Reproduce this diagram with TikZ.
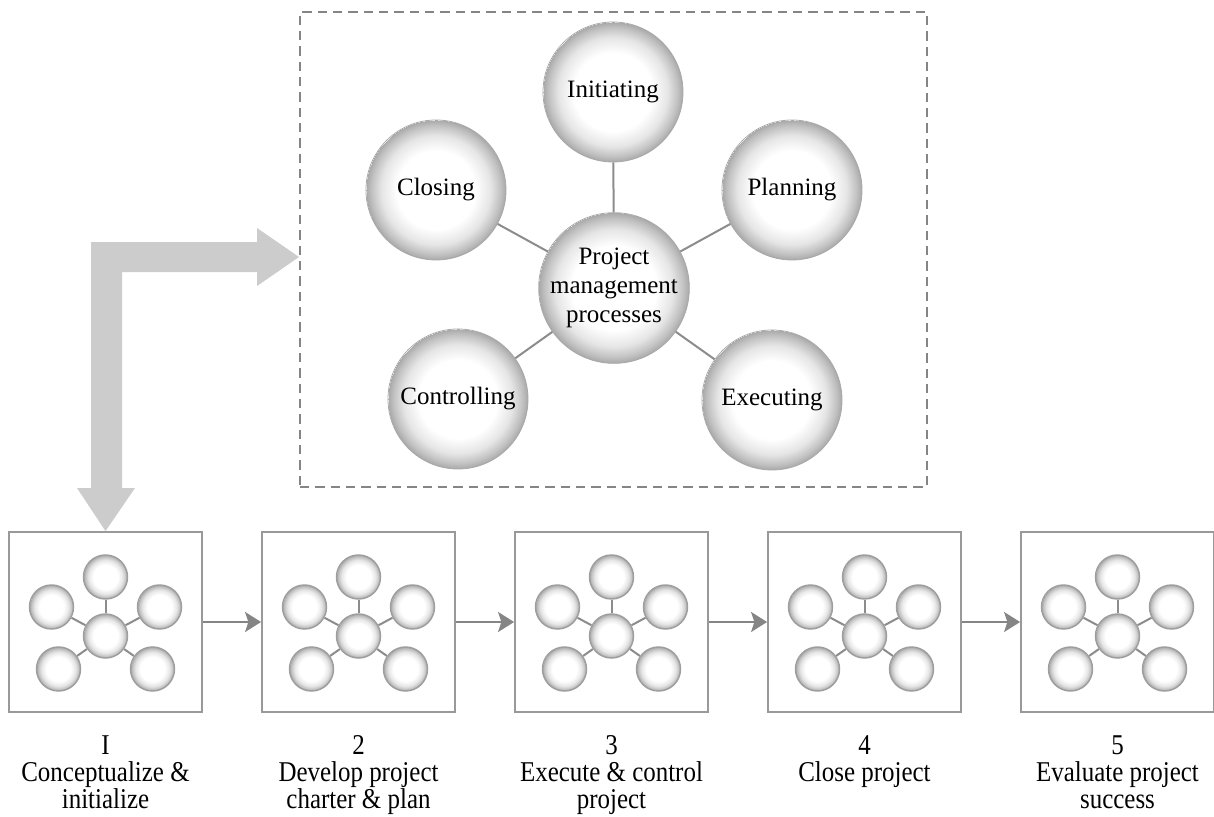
\documentclass[tikz,border=0pt]{standalone}
\usepackage{fontspec}
\setmainfont{Liberation Serif}
\newfontfamily\stagefont[FakeStretch=0.87]{Liberation Serif}
\usetikzlibrary{arrows.meta}

% soft sphere look: white core fading to grey at the rim
\pgfdeclareradialshading{orb}{\pgfpoint{0bp}{0bp}}{%
  color(0bp)=(white); color(14bp)=(white); color(19.5bp)=(black!10);
  color(23bp)=(black!24); color(25bp)=(black!34)}

\begin{document}
\begin{tikzpicture}[x=0.75pt,y=-0.75pt,
  bigorb/.style={circle, minimum size=105pt, inner sep=0pt, shade, shading=orb,
    draw=black!34, line width=0.6pt, align=center, text=black,
    font=\fontsize{18.75pt}{21.75pt}\selectfont},
  smallorb/.style={circle, minimum size=33pt, inner sep=0pt, shade, shading=orb,
    draw=black!38, line width=1.1pt},
  spoke/.style={draw=black!45, line width=1.5pt},
  stagebox/.style={rectangle, draw=black!40, line width=1.4pt, minimum width=144.75pt,
    minimum height=135pt, inner sep=0pt},
  flow/.style={draw=black!48, line width=1.5pt,
    -{Stealth[length=12pt,width=15pt,inset=2.5pt]}},
  pmframe/.style={rectangle, draw=black!48, line width=1.4pt,
    dash pattern=on 7pt off 4.5pt, minimum width=470.25pt,
    minimum height=356.25pt, inner sep=0pt},
  stagelabel/.style={anchor=north, inner sep=0pt, align=center, text=black,
    font=\stagefont\fontsize{21.5pt}{20.5pt}\selectfont},
  bigarrow/.style={fill=black!20, draw=none}
]
\useasboundingbox (0,0) rectangle (1214,817);
\fill[white] (0,0) rectangle (1214,817);

% dashed frame around the process group
\node[pmframe] (pm) at (613.5,249.5) {};

% the five process groups around the centre
\node[bigorb] (core) at (614,288) {Project\\management\\processes};
\node[bigorb] (init) at (613,92)  {Initiating};
\node[bigorb] (clos) at (436,190) {Closing};
\node[bigorb] (plan) at (792,190) {Planning};
\node[bigorb] (ctrl) at (458,399) {Controlling};
\node[bigorb] (exec) at (772,400) {Executing};
\foreach \p in {init,clos,plan,ctrl,exec}
  \draw[spoke] (core) -- (\p);

% life-cycle stages, each with a miniature of the process group
\foreach \i/\bx in {1/105.5, 2/358.5, 3/611.5, 4/864.5, 5/1117.5} {
  \node[stagebox] (b\i) at (\bx,622) {};
  \node[smallorb] (s\i c)  at (\bx,636) {};
  \node[smallorb] (s\i t)  at (\bx,577) {};
  \node[smallorb] (s\i ul) at ({\bx-54},607) {};
  \node[smallorb] (s\i ur) at ({\bx+54},607) {};
  \node[smallorb] (s\i ll) at ({\bx-47},669) {};
  \node[smallorb] (s\i lr) at ({\bx+47},669) {};
  \foreach \q in {t,ul,ur,ll,lr}
    \draw[spoke] (s\i c) -- (s\i \q);
}

\foreach \a/\b in {1/2, 2/3, 3/4, 4/5}
  \draw[flow] (b\a.east) -- (b\b.west);

% stage captions
\node[stagelabel] (l1) at (105.5,735) {I\\Conceptualize \&\\initialize};
\node[stagelabel] (l2) at (358.5,735) {2\\Develop project\\charter \& plan};
\node[stagelabel] (l3) at (611.5,735) {3\\Execute \& control\\project};
\node[stagelabel] (l4) at (864.5,735) {4\\Close project};
\node[stagelabel] (l5) at (1117.5,735) {5\\Evaluate project\\success};

% broad L-shaped arrow linking the first stage to the process group
\fill[bigarrow] (91,488) -- (91,242) -- (257,242) -- (257,228) -- (299,257)
  -- (257,286) -- (257,272) -- (122,272) -- (122,488) -- (135,488)
  -- (b1.north) -- (77,488) -- cycle;
\end{tikzpicture}
\end{document}
